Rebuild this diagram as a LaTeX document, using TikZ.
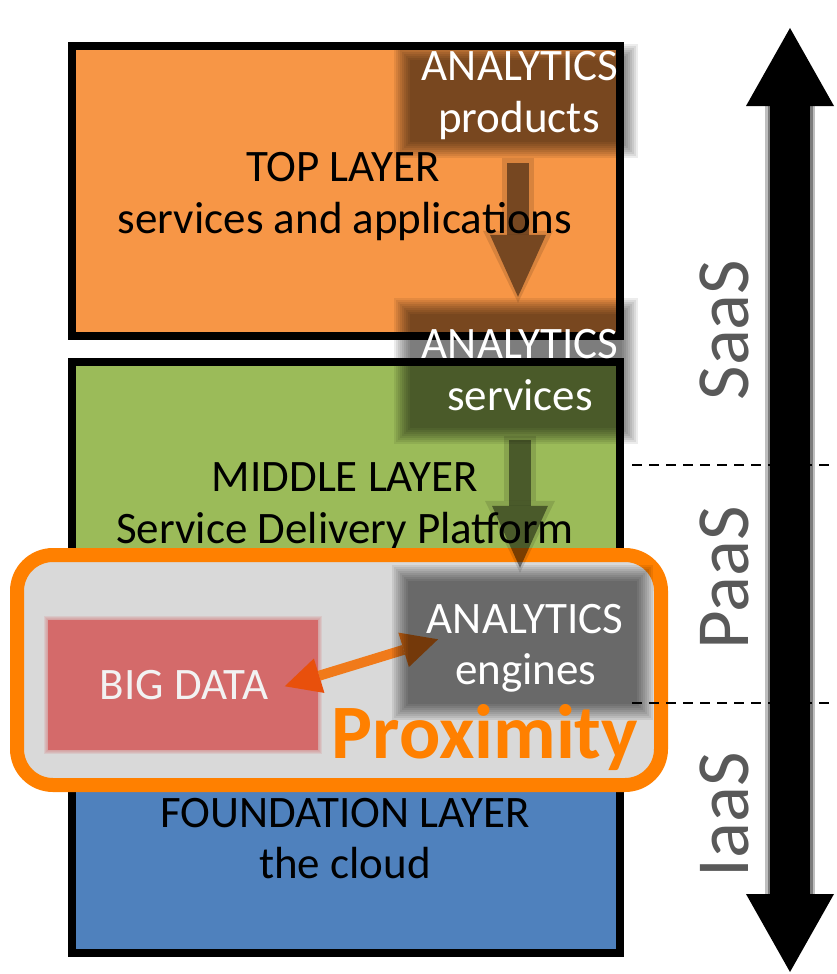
\documentclass[tikz,border=0pt]{standalone}
\usepackage{fontspec}
\setmainfont{Carlito}
\usetikzlibrary{arrows.meta,calc}
\definecolor{toporange}{HTML}{F79646}
\definecolor{midgreen}{HTML}{9BBB59}
\definecolor{foundblue}{HTML}{4F81BD}
\definecolor{proxorange}{HTML}{FF8000}
\definecolor{proxfill}{HTML}{D9D9D9}
\definecolor{bigred}{HTML}{D46A6A}
\definecolor{aasgray}{HTML}{595959}
\definecolor{linkorange}{HTML}{F07A1A}
\definecolor{linktip}{HTML}{E8500C}
\tikzset{
  layerbox/.style={draw=black, line width=8pt, inner sep=0pt},
  lbl/.style={font=\fontsize{45}{54}\selectfont, anchor=base, inner sep=0pt},
  wlbl/.style={lbl, text=white},
  aas/.style={font=\fontsize{75}{90}\selectfont, text=aasgray, rotate=90, inner sep=0pt},
  sepline/.style={dash pattern=on 10pt off 7pt, line width=2pt, black},
  darr/.style={draw=black, opacity=0.45, line width=22pt, -{Triangle[width=56pt,length=62pt,line width=0pt]}},
  darrhalo/.style={draw=black, opacity=0.12, line width=32pt, -{Triangle[width=70pt,length=72pt,line width=0pt]}},
}
\newcommand\softbox[4]{%
  \foreach \e in {0,2,4,6,8,10,12,14,16}{%
    \fill[black,opacity=0.074] (#1+8-\e,#2+8-\e) rectangle (#3-8+\e,#4-8+\e);}}
\begin{document}
\begin{tikzpicture}[x=1pt,y=-1pt]
\useasboundingbox (0,0) rectangle (836,974);
\fill[white] (0,0) rectangle (836,974);

% layer boxes
\node[layerbox, fill=toporange, minimum width=548pt, minimum height=290pt] (toplayer) at (346,191) {};
\node[layerbox, fill=midgreen, minimum width=548pt, minimum height=338pt] (midlayer) at (346,531) {};
\node[layerbox, fill=foundblue, minimum width=548pt, minimum height=193pt] (foundlayer) at (346,856.5) {};

\node[lbl] (topA) at (343,181) {TOP LAYER};
\node[lbl] (topB) at (345,233) {services and applications};
\node[lbl] (midA) at (345,491) {MIDDLE LAYER};
\node[lbl] (midB) at (345,543) {Service Delivery Platform};
\node[lbl] (fndA) at (345,827) {FOUNDATION LAYER};
\node[lbl] (fndB) at (345,878) {the cloud};

% proximity frame
\node[draw=proxorange, fill=proxfill, line width=14pt, rounded corners=36pt,
      minimum width=644pt, minimum height=230pt, inner sep=0pt] (prox) at (339,670) {};

% big data
\foreach \e in {1,2,3,4}{\fill[bigred,opacity=0.15] (48-\e,620-\e) rectangle (318+\e,750+\e);}
\node[fill=bigred, minimum width=270pt, minimum height=130pt, inner sep=0pt] (big) at (183,685) {};
\node[lbl, text=white!95!black] (bigA) at (184,699) {BIG DATA};

% analytics boxes (named placeholders)
\node[inner sep=0pt, minimum width=228pt, minimum height=98pt] (prod) at (516,101) {};
\node[inner sep=0pt, minimum width=228pt, minimum height=130pt] (serv) at (516,371) {};
\node[inner sep=0pt, minimum width=245pt, minimum height=139pt] (eng) at (522.5,642.5) {};

% orange link
\draw[line width=10pt, linkorange,
      {Triangle[width=36pt,length=36pt,line width=0pt,color=linktip]}-{Triangle[width=36pt,length=36pt,line width=0pt]},
      shorten <=-35pt, shorten >=-40pt]
      ([yshift=9pt]big.east) -- ([yshift=-8.5pt]eng.west);

% translucent analytics boxes
\softbox{402}{52}{630}{150}
\softbox{402}{306}{630}{436}
\softbox{400}{573}{645}{712}

% down arrows
\draw[darrhalo, shorten <=8pt, shorten >=3pt] ([xshift=2pt]prod.south) -- ([xshift=2pt]serv.north);
\draw[darr, shorten <=13pt, shorten >=9pt] ([xshift=2pt]prod.south) -- ([xshift=2pt]serv.north);
\draw[darrhalo, shorten <=0pt, shorten >=0pt] ([xshift=4pt]serv.south) -- ([xshift=-2.5pt]eng.north);
\draw[darr, shorten <=4pt, shorten >=5pt] ([xshift=4pt]serv.south) -- ([xshift=-2.5pt]eng.north);

% analytics labels
\node[wlbl] (prodA) at (520,81) {ANALYTICS};
\node[wlbl] (prodB) at (519,132) {products};
\node[wlbl] (servA) at (520,358) {ANALYTICS};
\node[wlbl] (servB) at (520,410) {services};
\node[wlbl] (engA) at (525,633) {ANALYTICS};
\node[wlbl] (engB) at (526,684) {engines};

\node[anchor=base, font=\fontsize{77}{90}\selectfont\bfseries, text=proxorange, inner sep=0pt] (proxlbl) at (485,758) {Proximity};

% service models
\node[aas] (saas) at (724,330) {SaaS};
\node[aas] (paas) at (724,578) {PaaS};
\node[aas] (iaas) at (724,815) {IaaS};

\coordinate (d1a) at (632,465); \coordinate (d1b) at (836,465);
\coordinate (d2a) at (632,703); \coordinate (d2b) at (836,703);
\draw[sepline] (d1a) -- (d1b);
\draw[sepline] (d2a) -- (d2b);

% big vertical double arrow
\coordinate (arrTop) at (790,28);
\coordinate (arrBot) at (790,972);
\draw[black, opacity=0.25, line width=50pt] (790,100) -- (790,900);
\draw[black, opacity=0.35, line width=45pt] (790,100) -- (790,900);
\draw[black, line width=40pt,
      {Triangle[width=88pt,length=78pt,line width=0pt]}-{Triangle[width=88pt,length=78pt,line width=0pt]}] (arrTop) -- (arrBot);
\end{tikzpicture}
\end{document}
